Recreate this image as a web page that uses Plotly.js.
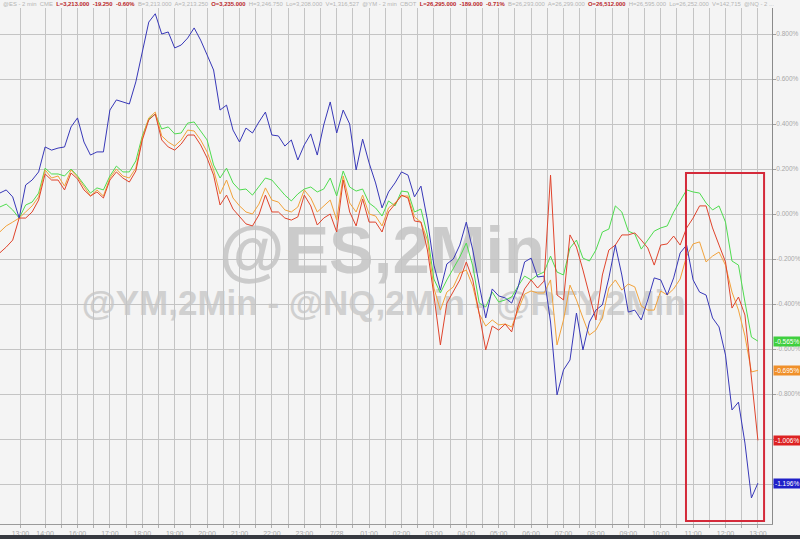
<!DOCTYPE html>
<html>
<head>
<meta charset="utf-8">
<script src="https://cdn.plot.ly/plotly-3.0.1.min.js"></script>
<style>html,body{margin:0;padding:0;background:#f4f4f4;}#chart{width:800px;height:539px;}</style>
</head>
<body>
<div id="chart"></div>
<script>
// session hours relative to 16:00 (one sample every 12 minutes)
const startHour = -2.4, stepHour = 0.2, nPoints = 118;
const times = [];
for (let i = 0; i < nPoints; i++) times.push(+(startHour + stepHour * i).toFixed(2));

// % change series
const nq = [0.093,0.107,0.076,-0.018,0.129,0.151,0.187,0.298,0.284,0.293,
0.298,0.387,0.427,0.320,0.262,0.276,0.276,0.462,0.507,0.498,
0.489,0.587,0.716,0.853,0.890,0.800,0.809,0.738,0.751,0.782,
0.827,0.773,0.707,0.640,0.462,0.484,0.373,0.320,0.382,0.360,
0.409,0.453,0.351,0.347,0.302,0.329,0.240,0.307,0.356,0.262,
0.396,0.498,0.360,0.462,0.400,0.196,0.333,0.227,0.138,0.027,
0.098,0.138,0.187,0.173,0.076,0.124,-0.027,-0.227,-0.338,-0.222,
-0.200,-0.138,-0.036,-0.160,-0.316,-0.462,-0.333,-0.364,-0.373,-0.396,
-0.324,-0.213,-0.196,-0.280,-0.276,-0.480,-0.804,-0.693,-0.649,-0.440,
-0.604,-0.480,-0.427,-0.404,-0.284,-0.138,-0.271,-0.436,-0.427,-0.471,
-0.382,-0.284,-0.293,-0.360,-0.284,-0.173,-0.138,-0.293,-0.347,-0.360,
-0.462,-0.502,-0.627,-0.871,-0.836,-1.018,-1.262,-1.196];

const es = [0.031,0.044,0.018,-0.018,0.040,0.053,0.093,0.204,0.178,0.178,
0.169,0.200,0.169,0.133,0.093,0.116,0.107,0.169,0.213,0.187,
0.187,0.236,0.347,0.422,0.444,0.378,0.387,0.356,0.360,0.404,
0.409,0.369,0.329,0.218,0.160,0.204,0.138,0.107,0.111,0.084,
0.120,0.160,0.151,0.116,0.084,0.058,0.089,0.111,0.120,0.098,
0.111,0.160,0.080,0.191,0.120,0.102,0.111,0.049,0.027,-0.009,
0.058,0.036,0.102,0.098,0.009,0.022,-0.093,-0.289,-0.351,-0.293,
-0.244,-0.191,-0.129,-0.231,-0.396,-0.413,-0.347,-0.391,-0.382,-0.369,
-0.320,-0.276,-0.293,-0.271,-0.258,-0.187,-0.258,-0.271,-0.151,-0.116,
-0.196,-0.209,-0.160,-0.080,-0.067,0.036,0.009,-0.076,-0.089,-0.156,
-0.116,-0.076,-0.062,-0.053,0.009,0.058,0.107,0.098,0.093,0.049,
0.018,0.036,-0.036,-0.209,-0.227,-0.391,-0.547,-0.565];

const rty = [-0.173,-0.147,-0.116,-0.018,-0.018,0.009,0.062,0.178,0.151,0.151,
0.107,0.182,0.156,0.107,0.080,0.098,0.071,0.151,0.187,0.160,
0.142,0.191,0.329,0.418,0.444,0.329,0.298,0.284,0.311,0.351,
0.351,0.307,0.249,0.173,0.040,0.084,0.022,-0.009,-0.044,-0.053,
-0.004,0.084,0.009,0.009,-0.018,-0.027,-0.013,0.084,0.036,-0.049,
-0.018,0.000,-0.080,0.151,0.009,-0.053,0.067,-0.036,-0.036,-0.080,
0.009,0.044,0.084,0.071,-0.031,-0.036,-0.160,-0.360,-0.582,-0.396,
-0.342,-0.293,-0.213,-0.293,-0.444,-0.604,-0.498,-0.516,-0.489,-0.524,
-0.409,-0.333,-0.293,-0.329,-0.298,0.173,-0.360,-0.382,-0.093,-0.147,
-0.249,-0.360,-0.471,-0.271,-0.160,-0.138,-0.093,-0.093,-0.084,-0.116,
-0.151,-0.227,-0.138,-0.133,-0.098,-0.138,-0.062,-0.018,0.036,0.036,
-0.062,-0.138,-0.213,-0.418,-0.369,-0.449,-0.738,-1.006];

const ym = [-0.080,-0.053,-0.036,-0.018,0.009,0.036,0.076,0.196,0.160,0.169,
0.124,0.196,0.164,0.120,0.080,0.107,0.080,0.160,0.200,0.169,
0.160,0.204,0.338,0.427,0.453,0.347,0.320,0.302,0.329,0.373,
0.369,0.329,0.276,0.196,0.089,0.151,0.071,0.036,0.009,0.000,
0.044,0.116,0.062,0.053,0.018,0.009,0.031,0.107,0.071,0.009,
0.036,0.062,-0.027,0.169,0.049,0.009,0.084,0.000,-0.009,-0.053,
0.027,0.049,0.080,0.080,-0.013,-0.036,-0.116,-0.329,-0.427,-0.347,
-0.324,-0.262,-0.249,-0.320,-0.444,-0.498,-0.471,-0.493,-0.489,-0.502,
-0.427,-0.356,-0.342,-0.351,-0.351,-0.293,-0.582,-0.471,-0.316,-0.382,
-0.462,-0.538,-0.516,-0.462,-0.329,-0.293,-0.338,-0.311,-0.324,-0.409,
-0.427,-0.427,-0.342,-0.360,-0.333,-0.289,-0.187,-0.133,-0.124,-0.213,
-0.187,-0.169,-0.227,-0.347,-0.427,-0.542,-0.702,-0.695];

// x axis ticks (session hours) and labels
const xTickVals = [-1.76,-1,-0.5,0,0.5,1,1.5,2,2.5,3,3.5,4,4.5,5,5.5,6,6.5,7,7.5,8,8.5,9,9.5,10,10.5,11,11.5,12,12.5,13,13.5,14,14.5,15,15.5,16,16.5,17,17.5,18,18.5,19,19.5,20,20.5,21];
const xTickText = ['13:00','14:00','','16:00','','17:00','','18:00','','19:00','','20:00','','21:00','','22:00','','23:00','','7/28','','01:00','','02:00','','03:00','','04:00','','05:00','','06:00','','07:00','','08:00','','09:00','','10:00','','11:00','','12:00','','13:00'];
const yTickVals = [0.8,0.6,0.4,0.2,0,-0.2,-0.4,-0.6,-0.8,-1.0,-1.2];
// the -1.000% and -1.200% labels sit fully under the last-value badges
const yTickText = ['0.800%','0.600%','0.400%','0.200%','0.000%','-0.200%','-0.400%','-0.600%','-0.800%','',''];

const series = [
  {name:'@ES', y: es, color:'#4fdc4f', badge:'#3fcf3f'},
  {name:'@YM', y: ym, color:'#f2a23a', badge:'#f0902a'},
  {name:'@NQ', y: nq, color:'#3838b8', badge:'#2020c8'},
  {name:'@RTY', y: rty, color:'#e0442c', badge:'#dd2222'}
];

const FONT = 'Liberation Sans, Arial, sans-serif';
const NARROW = 'Liberation Sans Narrow, Liberation Sans, Arial, sans-serif';

const traces = series.map(s => ({
  type:'scatter', mode:'lines', x: times, y: s.y, name: s.name,
  line:{color:s.color, width:1}, hoverinfo:'skip'
}));

const annotations = series.map(s => ({
  xref:'paper', yref:'y', x:1, y:s.y[s.y.length-1], xanchor:'left', yanchor:'middle', xshift:1,
  text: s.y[s.y.length-1].toFixed(3) + '%', showarrow:false,
  bgcolor:s.badge, borderpad:1, font:{family:FONT, size:6.5, color:'#ffffff'}
}));

// header quote line (one text line, mixed colours)
const gray = '#b4b4b4', dred = '#b8262a';
const header = [
  ['@ES - 2 min', gray, false], ['CME', gray, false],
  ['L=3,213.000', dred, true], ['-19.250', dred, true], ['-0.60%', dred, true],
  ['B=3,213.000', gray, false], ['A=3,213.250', gray, false],
  ['O=3,235.000', dred, true], ['H=3,246.750', gray, false],
  ['Lo=3,208.000', gray, false], ['V=1,316,527', gray, false],
  ['@YM - 2 min', gray, false], ['CBOT', gray, false],
  ['L=26,295.000', dred, true], ['-189.000', dred, true], ['-0.71%', dred, true],
  ['B=26,293.000', gray, false], ['A=26,299.000', gray, false],
  ['O=26,512.000', dred, true], ['H=26,595.000', gray, false],
  ['Lo=26,252.000', gray, false], ['V=142,715', gray, false],
  ['@NQ - 2 ...', gray, false]
];
const headerText = header.map(h => {
  const t = h[2] ? '<b>' + h[0] + '</b>' : h[0];
  return '<span style="color:' + h[1] + '">' + t + '</span>';
}).join('&nbsp; ');
annotations.push({
  xref:'paper', yref:'paper', x: 1/772, y: 1, yshift: 4.5, xanchor:'left', yanchor:'middle',
  text: headerText, showarrow:false, font:{family:NARROW, size:5.9, color:gray}
});

const shapes = [
  // watermarks
  {type:'rect', xref:'x', yref:'y', x0:8.9, x1:9.9, y0:-0.17, y1:-0.09, layer:'below',
   line:{width:0}, fillcolor:'rgba(0,0,0,0)',
   label:{text:'<b>@ES,2Min</b>', textposition:'middle center', font:{family:FONT, size:67, color:'#cbcbcb'}}},
  {type:'rect', xref:'x', yref:'y', x0:9.0, x1:9.9, y0:-0.42, y1:-0.34, layer:'below',
   line:{width:0}, fillcolor:'rgba(0,0,0,0)',
   label:{text:'<b>@YM,2Min - @NQ,2Min - @RTY,2Min</b>', textposition:'middle center', font:{family:FONT, size:35, color:'#d0d0d0'}}},
  // highlight box
  {type:'rect', xref:'x', yref:'y', x0:18.78, x1:21.19, y0:-1.364, y1:0.182,
   line:{color:'#d42a3a', width:2}, fillcolor:'rgba(0,0,0,0)'},
  // bottom strip
  {type:'rect', xref:'paper', yref:'paper', x0:0, x1:1.0363, y0:-0.0293, y1:-0.0213,
   line:{width:0}, fillcolor:'#363940'}
];

const layout = {
  width:800, height:539,
  margin:{l:0, r:28, t:8, b:15},
  paper_bgcolor:'#f4f4f4', plot_bgcolor:'#f4f4f4',
  showlegend:false, hovermode:false,
  font:{family:FONT, size:7, color:'#a8a8a8'},
  xaxis:{
    range:[-2.392, 21.435], tickmode:'array', tickvals:xTickVals, ticktext:xTickText,
    showgrid:true, gridcolor:'#c4c4c4', gridwidth:1, zeroline:false,
    showline:true, linecolor:'#9a9a9a', linewidth:1,
    ticks:'outside', ticklen:3, tickcolor:'#b0b0b0',
    tickfont:{family:FONT, size:7, color:'#a8a8a8'}, fixedrange:true
  },
  yaxis:{
    side:'right', range:[-1.3778, 0.9156], tickmode:'array', tickvals:yTickVals, ticktext:yTickText,
    showgrid:true, gridcolor:'#c4c4c4', gridwidth:1, zeroline:false,
    showline:true, linecolor:'#8a8a8a', linewidth:1,
    ticks:'outside', ticklen:3, tickcolor:'#a0a0a0', ticklabelstandoff:-1,
    tickfont:{family:FONT, size:6.5, color:'#a8a8a8'}, fixedrange:true
  },
  annotations: annotations,
  shapes: shapes
};

Plotly.newPlot('chart', traces, layout, {displayModeBar:false, staticPlot:true});
</script>
</body>
</html>
